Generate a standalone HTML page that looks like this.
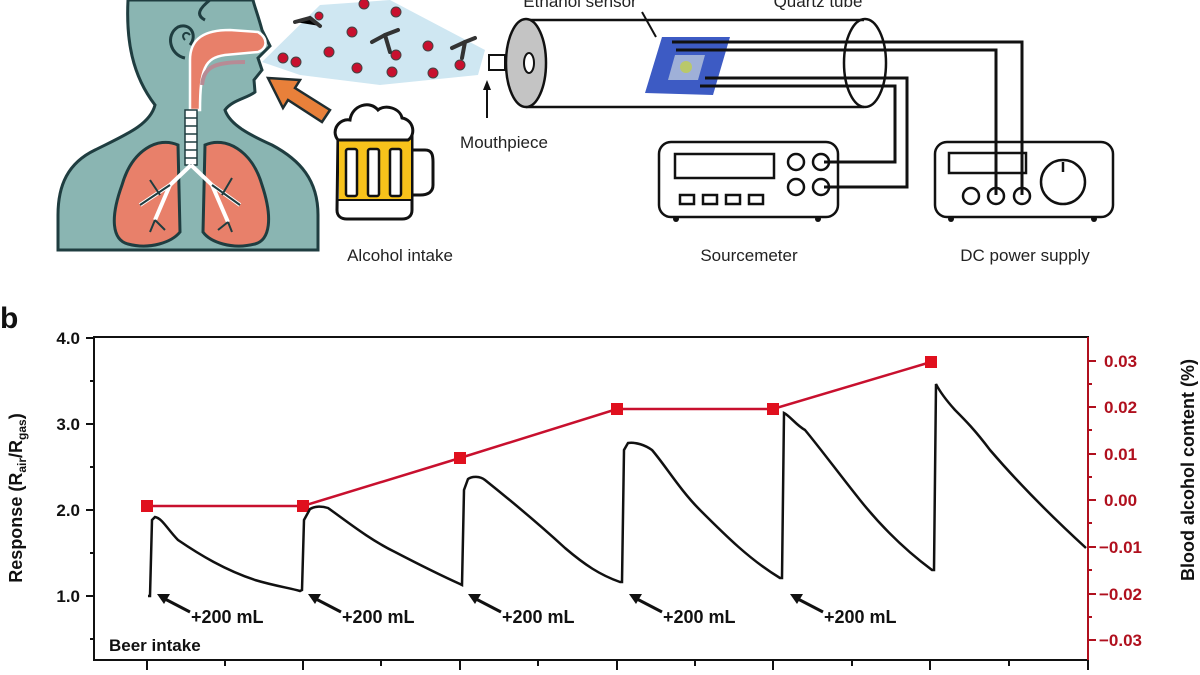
<!DOCTYPE html>
<html><head><meta charset="utf-8"><style>
html,body{margin:0;padding:0;background:#fff;}
svg{display:block;font-family:"Liberation Sans",Arial,sans-serif;}
</style></head><body>
<svg width="1200" height="675" viewBox="0 0 1200 675" xmlns="http://www.w3.org/2000/svg">
<!-- PERSON -->
<path d="M128,0 C126,40 132,75 155,105 C150,125 125,135 95,150 C68,163 58,185 58,215 L58,250 L318,250 L318,215 C318,180 300,160 272,145 C250,135 230,125 225,110 C232,100 248,98 255,92 L254,80 L262,70 L258,58 L270,46 L262,30 C258,15 254,5 253,0 Z" fill="#8ab5b2" stroke="#1f3d40" stroke-width="3"/>
<path d="M210,0 C200,8 195,15 205,20" fill="none" stroke="#1f3d40" stroke-width="3"/>
<path d="M185,58 C170,55 165,35 178,27 C190,22 198,35 190,45" fill="none" stroke="#1f3d40" stroke-width="3"/>
<path d="M185,40 C180,35 186,30 190,35" fill="none" stroke="#1f3d40" stroke-width="2"/>
<!-- airway -->
<path d="M190,110 L190,60 C190,38 205,30 230,30 L258,32 C268,38 268,48 258,52 L225,55 C205,58 200,68 200,110 Z" fill="#e8806a" stroke="#fff" stroke-width="2.5"/>
<path d="M202,85 C204,68 212,62 245,62" fill="none" stroke="#b78b95" stroke-width="4"/>
<rect x="185" y="110" width="12" height="55" fill="#fff" stroke="#1f3d40" stroke-width="1.5"/>
<g stroke="#1f3d40" stroke-width="1.5"><line x1="185" y1="118" x2="197" y2="118"/><line x1="185" y1="126" x2="197" y2="126"/><line x1="185" y1="134" x2="197" y2="134"/><line x1="185" y1="142" x2="197" y2="142"/><line x1="185" y1="150" x2="197" y2="150"/><line x1="185" y1="158" x2="197" y2="158"/></g>
<!-- lungs -->
<path d="M178,145 C158,136 132,150 122,185 C110,218 112,240 128,244 C150,250 172,242 180,232 Z" fill="#e8806a" stroke="#1f3d40" stroke-width="3"/>
<path d="M205,145 C225,136 252,150 262,185 C273,218 270,240 255,244 C232,250 210,242 203,232 Z" fill="#e8806a" stroke="#1f3d40" stroke-width="3"/>
<g fill="none" stroke="#fff" stroke-width="4"><path d="M191,165 L170,185 L140,205"/><path d="M191,165 L212,185 L240,205"/><path d="M170,185 L155,220"/><path d="M212,185 L228,222"/></g>
<g fill="none" stroke="#1f3d40" stroke-width="2"><path d="M170,185 L140,205"/><path d="M212,185 L240,205"/><path d="M155,220 L150,232 M155,220 L165,230 M160,195 L150,180"/><path d="M228,222 L232,232 M228,222 L218,230 M222,195 L232,178"/></g>
<!-- spray cone -->
<path d="M262,62 L320,5 L390,0 L485,50 L478,75 L380,85 L300,75 Z" fill="#cfe7f2"/>
<g>
<g fill="#c8102e" stroke="#444" stroke-width="1"><circle cx="296" cy="62" r="5"/><circle cx="329" cy="52" r="5"/><circle cx="283" cy="58" r="5"/><circle cx="357" cy="68" r="5"/><circle cx="392" cy="72" r="5"/><circle cx="433" cy="73" r="5"/><circle cx="428" cy="46" r="5"/><circle cx="352" cy="32" r="5"/><circle cx="396" cy="55" r="5"/><circle cx="364" cy="4" r="5"/><circle cx="396" cy="12" r="5"/><circle cx="460" cy="65" r="5"/><circle cx="319" cy="16" r="4"/></g>
<g stroke="#333" stroke-width="4" stroke-linecap="round"><path d="M295,22 L310,18 L320,26"/><path d="M372,42 L385,35 L398,30"/><path d="M452,48 L465,42 L475,38"/><path d="M385,35 L390,52"/><path d="M465,42 L462,58"/></g>
</g>
<!-- orange arrow -->
<path d="M330,110 L295,88 L300,80 L268,78 L283,108 L288,100 L322,122 Z" fill="#e8803a" stroke="#1f2d30" stroke-width="2.5"/>
<!-- beer mug -->
<path d="M412,150 L425,150 C432,150 433,155 433,162 L433,185 C433,192 428,195 420,195 L412,195" fill="#fff" stroke="#111" stroke-width="3"/>
<path d="M338,135 L412,135 L412,210 C412,216 408,219 402,219 L347,219 C341,219 337,216 337,210 Z" fill="#fff" stroke="#111" stroke-width="3"/>
<rect x="339" y="137" width="72" height="62" fill="#f7c21b"/>
<line x1="337" y1="200" x2="412" y2="200" stroke="#111" stroke-width="2"/>
<path d="M338,140 C330,130 340,118 350,120 C352,105 370,100 378,110 C385,104 400,108 402,118 C414,120 416,135 408,140 Z" fill="#fff" stroke="#111" stroke-width="3"/>
<g fill="#fff" stroke="#111" stroke-width="2.5"><rect x="346" y="149" width="11" height="47" rx="2"/><rect x="368" y="149" width="11" height="47" rx="2"/><rect x="390" y="149" width="11" height="47" rx="2"/></g>
<text x="400" y="261" font-size="17" text-anchor="middle" fill="#222">Alcohol intake</text>
<!-- mouthpiece + tube -->
<rect x="489" y="55" width="16" height="15" fill="#fff" stroke="#111" stroke-width="2"/>
<line x1="487" y1="118" x2="487" y2="86" stroke="#111" stroke-width="2"/>
<path d="M487,80 L483,90 L491,90 Z" fill="#111"/>
<text x="504" y="148" font-size="17" text-anchor="middle" fill="#222">Mouthpiece</text>
<line x1="526" y1="20" x2="864" y2="20" stroke="#111" stroke-width="2.5"/>
<line x1="526" y1="107" x2="864" y2="107" stroke="#111" stroke-width="2.5"/>
<ellipse cx="526" cy="63" rx="20" ry="44" fill="#c4c4c4" stroke="#111" stroke-width="2.5"/>
<ellipse cx="529" cy="63" rx="5" ry="10" fill="#fff" stroke="#111" stroke-width="2"/>
<ellipse cx="865" cy="63" rx="21" ry="44" fill="none" stroke="#111" stroke-width="2.5"/>
<text x="580" y="7" font-size="17" text-anchor="middle" fill="#222">Ethanol sensor</text>
<text x="818" y="7" font-size="17" text-anchor="middle" fill="#222">Quartz tube</text>
<line x1="642" y1="12" x2="656" y2="37" stroke="#111" stroke-width="2"/>
<!-- chip -->
<path d="M662,37 L730,37 L713,95 L645,93 Z" fill="#3d5bc4"/>
<path d="M675,55 L705,55 L698,80 L668,80 Z" fill="#9fb0d8"/>
<circle cx="686" cy="67" r="6" fill="#b9c86a"/>
<!-- wires -->
<g fill="none" stroke="#111" stroke-width="3">
<path d="M672,42 L1022,42 L1022,195"/>
<path d="M676,50 L996,50 L996,195"/>
<path d="M705,78 L907,78 L907,187 L824,187"/>
<path d="M700,86 L895,86 L895,162 L824,162"/>
</g>
<!-- sourcemeter -->
<rect x="659" y="142" width="179" height="75" rx="12" fill="none" stroke="#111" stroke-width="2.5"/>
<rect x="675" y="154" width="99" height="24" fill="none" stroke="#111" stroke-width="2.5"/>
<g fill="none" stroke="#111" stroke-width="2.5"><rect x="680" y="195" width="14" height="9"/><rect x="703" y="195" width="14" height="9"/><rect x="726" y="195" width="14" height="9"/><rect x="749" y="195" width="14" height="9"/>
<circle cx="796" cy="162" r="8"/><circle cx="821" cy="162" r="8"/><circle cx="796" cy="187" r="8"/><circle cx="821" cy="187" r="8"/></g>
<circle cx="676" cy="219" r="3" fill="#111"/><circle cx="818" cy="219" r="3" fill="#111"/>
<text x="749" y="261" font-size="17" text-anchor="middle" fill="#222">Sourcemeter</text>
<!-- DC supply -->
<rect x="935" y="142" width="178" height="75" rx="12" fill="none" stroke="#111" stroke-width="2.5"/>
<rect x="949" y="153" width="77" height="20" fill="none" stroke="#111" stroke-width="2.5"/>
<g fill="none" stroke="#111" stroke-width="2.5"><circle cx="971" cy="196" r="8"/><circle cx="996" cy="196" r="8"/><circle cx="1022" cy="196" r="8"/><circle cx="1063" cy="182" r="22"/></g>
<line x1="1063" y1="162" x2="1063" y2="172" stroke="#111" stroke-width="2.5"/>
<circle cx="951" cy="219" r="3" fill="#111"/><circle cx="1094" cy="219" r="3" fill="#111"/>
<text x="1025" y="261" font-size="17" text-anchor="middle" fill="#222">DC power supply</text>

<!-- PANEL B -->
<text x="0" y="328" font-size="30" font-weight="bold" fill="#111">b</text>
<rect x="94" y="337" width="994" height="323" fill="none" stroke="#111" stroke-width="2"/>
<line x1="1088" y1="337" x2="1088" y2="660" stroke="#b0101e" stroke-width="2"/>
<g font-size="17" font-weight="bold" fill="#111" text-anchor="end">
<text x="80" y="344">4.0</text><text x="80" y="430">3.0</text><text x="80" y="516">2.0</text><text x="80" y="602">1.0</text></g>
<g stroke="#111" stroke-width="2"><line x1="86" y1="338" x2="94" y2="338"/><line x1="86" y1="424" x2="94" y2="424"/><line x1="86" y1="510" x2="94" y2="510"/><line x1="86" y1="596" x2="94" y2="596"/>
<line x1="90" y1="381" x2="94" y2="381"/><line x1="90" y1="467" x2="94" y2="467"/><line x1="90" y1="553" x2="94" y2="553"/><line x1="90" y1="639" x2="94" y2="639"/>
<line x1="147" y1="660" x2="147" y2="670"/><line x1="303" y1="660" x2="303" y2="670"/><line x1="460" y1="660" x2="460" y2="670"/><line x1="617" y1="660" x2="617" y2="670"/><line x1="773" y1="660" x2="773" y2="670"/><line x1="930" y1="660" x2="930" y2="670"/><line x1="1088" y1="660" x2="1088" y2="670"/>
<line x1="225" y1="660" x2="225" y2="666"/><line x1="381" y1="660" x2="381" y2="666"/><line x1="538" y1="660" x2="538" y2="666"/><line x1="695" y1="660" x2="695" y2="666"/><line x1="852" y1="660" x2="852" y2="666"/><line x1="1009" y1="660" x2="1009" y2="666"/></g>
<g stroke="#b0101e" stroke-width="2"><line x1="1088" y1="361" x2="1096" y2="361"/><line x1="1088" y1="407" x2="1096" y2="407"/><line x1="1088" y1="454" x2="1096" y2="454"/><line x1="1088" y1="500" x2="1096" y2="500"/><line x1="1088" y1="547" x2="1096" y2="547"/><line x1="1088" y1="594" x2="1096" y2="594"/><line x1="1088" y1="640" x2="1096" y2="640"/>
<line x1="1088" y1="384" x2="1092" y2="384"/><line x1="1088" y1="430" x2="1092" y2="430"/><line x1="1088" y1="477" x2="1092" y2="477"/><line x1="1088" y1="523" x2="1092" y2="523"/><line x1="1088" y1="570" x2="1092" y2="570"/><line x1="1088" y1="617" x2="1092" y2="617"/></g>
<g font-size="17" font-weight="bold" fill="#b0101e">
<text x="1104" y="367">0.03</text><text x="1104" y="413">0.02</text><text x="1104" y="460">0.01</text><text x="1104" y="506">0.00</text><text x="1099" y="553">−0.01</text><text x="1099" y="600">−0.02</text><text x="1099" y="646">−0.03</text></g>
<text transform="translate(22,498) rotate(-90)" font-size="18" font-weight="bold" text-anchor="middle" fill="#111">Response (R<tspan font-size="12" dy="4">air</tspan><tspan dy="-4">/R</tspan><tspan font-size="12" dy="4">gas</tspan><tspan dy="-4">)</tspan></text>
<text transform="translate(1194,470) rotate(-90)" font-size="18" font-weight="bold" text-anchor="middle" fill="#111">Blood alcohol content (%)</text>
<!-- red line -->
<polyline points="147,506 303,506 460,458 617,409 773,409 931,362" fill="none" stroke="#c8102e" stroke-width="2.5"/>
<g fill="#e0101e"><rect x="141" y="500" width="12" height="12"/><rect x="297" y="500" width="12" height="12"/><rect x="454" y="452" width="12" height="12"/><rect x="611" y="403" width="12" height="12"/><rect x="767" y="403" width="12" height="12"/><rect x="925" y="356" width="12" height="12"/></g>
<!-- response curve -->
<path d="M148,596 L150,596 L152,520 L155,517 C162,518 168,530 178,540 C200,555 225,570 255,580 C275,586 290,588 300,591 L302,590 L304,520 L310,509 C315,506 322,506 328,508 C345,520 370,540 395,552 C420,565 440,575 460,584 L462,585 L464,490 L468,479 C472,476 480,476 485,480 C510,500 540,525 565,548 C585,565 600,575 620,582 L622,582 L624,450 L628,443 C636,442 645,445 652,450 C665,465 680,490 700,510 C725,535 750,560 780,578 L782,578 L784,413 C790,416 796,425 805,430 C820,448 840,475 860,500 C880,525 905,550 932,570 L934,570 L936,384 C940,392 946,400 955,410 C965,420 975,430 990,450 C1020,485 1050,515 1086,548" fill="none" stroke="#111" stroke-width="2.5"/>
<!-- annotations -->
<g font-size="18" font-weight="bold" fill="#111">
<text x="191" y="623">+200 mL</text><text x="342" y="623">+200 mL</text><text x="502" y="623">+200 mL</text><text x="663" y="623">+200 mL</text><text x="824" y="623">+200 mL</text></g>
<g stroke="#111" stroke-width="3"><line x1="190" y1="612" x2="165" y2="599"/><line x1="341" y1="612" x2="316" y2="599"/><line x1="501" y1="612" x2="476" y2="599"/><line x1="662" y1="612" x2="637" y2="599"/><line x1="823" y1="612" x2="798" y2="599"/></g>
<g fill="#111"><path d="M157,594 L170,594 L164,604 Z"/><path d="M308,594 L321,594 L315,604 Z"/><path d="M468,594 L481,594 L475,604 Z"/><path d="M629,594 L642,594 L636,604 Z"/><path d="M790,594 L803,594 L797,604 Z"/></g>
<text x="109" y="651" font-size="17" font-weight="bold" fill="#111">Beer intake</text>
</svg>
</body></html>
